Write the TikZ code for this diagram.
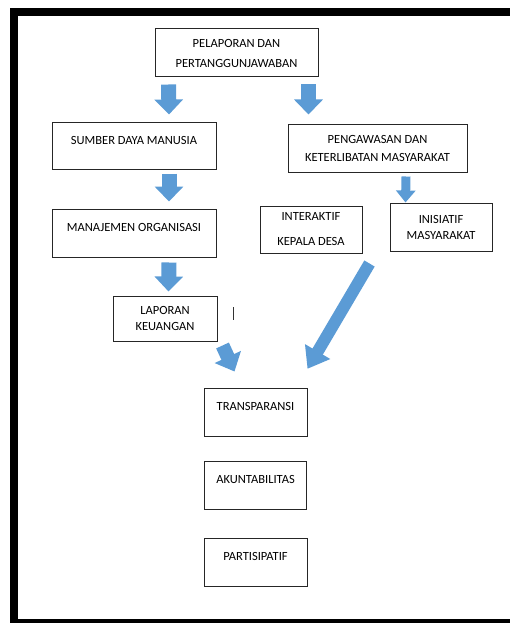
\documentclass[tikz,border=0pt]{standalone}
\usepackage{fontspec}
\setmainfont{Carlito}
\usetikzlibrary{arrows.meta, positioning}
\definecolor{arrowblue}{HTML}{5B9BD5}

\begin{document}
\begin{tikzpicture}[
    x=1pt, y=-1pt,
    node distance=25pt,
    box/.style={rectangle, draw=black!85, line width=1pt, fill=white, align=center, inner sep=2pt, font=\fontsize{12.5}{16}\selectfont},
    oneline/.style={text height=8pt, text depth=11pt},
    bigarrow/.style={draw=arrowblue, line width=15pt, -{Triangle[width=28pt, length=15pt]}},
    smallarrow/.style={draw=arrowblue, line width=9pt, -{Triangle[width=19pt, length=12pt]}},
    diagarrow/.style={draw=arrowblue, line width=12pt, -{Triangle[width=28pt, length=20pt]}},
    fatarrow/.style={draw=arrowblue, line width=14pt, -{Triangle[width=28pt, length=16pt]}},
    frame/.style={line width=7.6pt, draw=black}
]
\useasboundingbox (0,0) rectangle (510,623);

% bingkai
\draw[frame] (13.7,12) rectangle (530,623.1);

% atas
\node[box, minimum width=163pt, minimum height=48pt] (pel) at (236.5,53) {PELAPORAN DAN\\[4pt]PERTANGGUNJAWABAN};

% kolom kiri
\node[box, oneline, minimum width=164pt, minimum height=47pt] (sdm) at (134,145.5) {SUMBER DAYA MANUSIA};
\node[box, oneline, minimum width=164pt, minimum height=48pt, below=39pt of sdm] (man) {MANAJEMEN ORGANISASI};
\node[box, minimum width=104pt, minimum height=45pt] (lap) at (165,318.5) {LAPORAN\\KEUANGAN};

% kolom kanan
\node[box, minimum width=179pt, minimum height=48pt] (peng) at (377.5,148) {PENGAWASAN DAN\\[2pt]KETERLIBATAN MASYARAKAT};
\node[box, minimum width=102pt, minimum height=47pt] (inter) at (311,229.5) {INTERAKTIF\\[9pt]KEPALA DESA};
\node[box, minimum width=102pt, minimum height=48pt] (inis) at (441,227) {INISIATIF\\MASYARAKAT};

% hasil
\node[box, oneline, minimum width=103pt, minimum height=48pt] (trans) at (255.5,412) {TRANSPARANSI};
\node[box, oneline, minimum width=102pt, minimum height=48pt, below=24pt of trans] (akun) {AKUNTABILITAS};
\node[box, oneline, minimum width=103pt, minimum height=48pt, below=28pt of akun] (part) {PARTISIPATIF};

% panah
\draw[bigarrow] ([xshift=14pt,yshift=-7pt]pel.south west) -- ([xshift=35pt,yshift=7pt]sdm.north);
\draw[bigarrow] ([xshift=-10pt,yshift=-7pt]pel.south east) -- ([xshift=-69pt,yshift=9pt]peng.north);
\draw[bigarrow] ([xshift=-47.5pt,yshift=-4pt]sdm.south east) -- ([xshift=-47.5pt,yshift=7pt]man.north east);
\draw[bigarrow] ([xshift=-47.5pt,yshift=-5pt]man.south east) -- ([xshift=3.5pt,yshift=4pt]lap.north);
\draw[smallarrow] ([xshift=28.5pt,yshift=-4pt]peng.south) -- ([xshift=16pt,yshift=0pt]inis.north west);
\draw[diagarrow] ([xshift=7pt,yshift=-10pt]inter.south east) -- ([xshift=0pt,yshift=18.7pt]trans.north east);
\draw[fatarrow] ([xshift=5pt,yshift=-4pt]lap.south east) -- ([xshift=31pt,yshift=16pt]trans.north west);

% kursor
\draw[line width=1.2pt, black!80] (233.5,307) -- (233.5,320);
\end{tikzpicture}
\end{document}
